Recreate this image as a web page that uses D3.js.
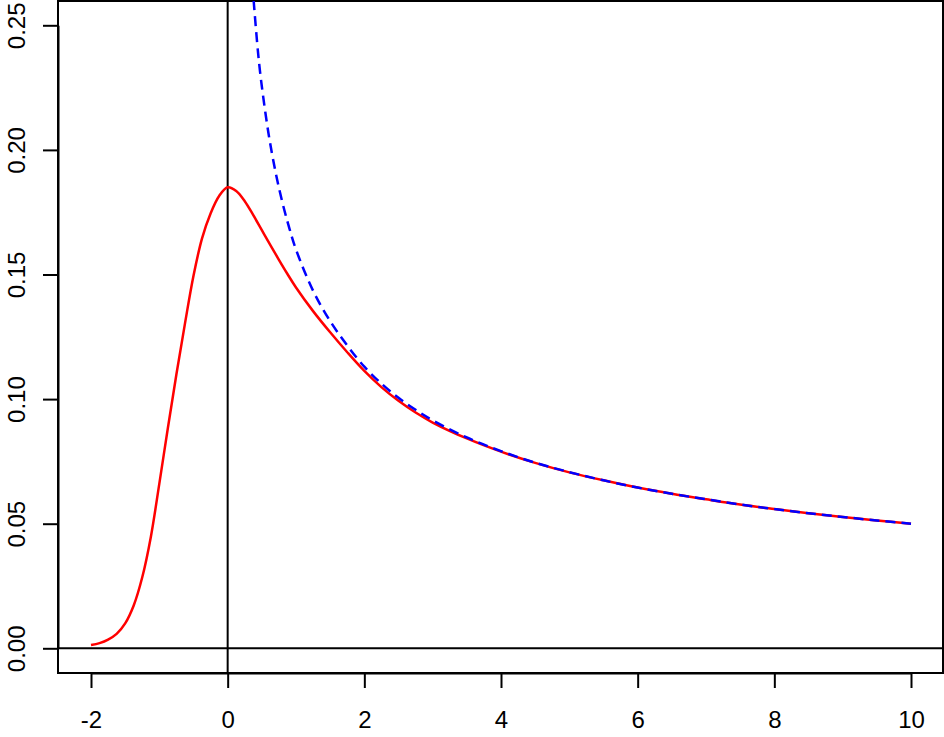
<!DOCTYPE html>
<html>
<head>
<meta charset="utf-8">
<script src="https://cdn.jsdelivr.net/npm/d3@7"></script>
<style>
  body { margin: 0; background: #fff; }
  svg { display: block; }
  text { font-family: "Liberation Sans", Arial, sans-serif; font-size: 24px; fill: #000; }
</style>
</head>
<body>
<svg width="944" height="737"></svg>
<script>
//  data
var xTicks = [-2, 0, 2, 4, 6, 8, 10];
var yTicks = [0, 0.05, 0.10, 0.15, 0.20, 0.25];

//  red solid curve
var redX = [-2, -1.875, -1.75, -1.625, -1.5, -1.375, -1.25, -1.125, -1, -0.875, -0.75, -0.625, -0.5, -0.375, -0.25, -0.125, 0,
            0.125, 0.25, 0.375, 0.5, 0.625, 0.75, 0.875, 1, 1.25, 1.5, 1.75, 2, 2.25, 2.5, 2.75, 3,
            3.5, 4, 4.5, 5, 5.5, 6, 6.5, 7, 7.5, 8, 8.5, 9, 9.5, 10];
var redY = [0.0013, 0.0021, 0.0035, 0.0058, 0.0100, 0.0172, 0.0285, 0.0446, 0.0661, 0.0884, 0.1100, 0.1303, 0.1495, 0.1645, 0.1745, 0.1815, 0.1850,
            0.1835, 0.1794, 0.1738, 0.1678, 0.1618, 0.1559, 0.1502, 0.1448, 0.1353, 0.1268, 0.1188, 0.1113, 0.1048, 0.0993, 0.0946, 0.0906,
            0.0842, 0.0789, 0.0744, 0.0706, 0.0674, 0.0645, 0.0620, 0.0598, 0.0577, 0.0559, 0.0542, 0.0527, 0.0513, 0.0500];

//  blue dashed curve
var blueX = [0.3, 0.35, 0.38, 0.45, 0.5, 0.6, 0.7, 0.8, 0.9, 1, 1.25, 1.5, 1.75, 2, 2.25, 2.5, 2.75, 3,
             3.5, 4, 4.5, 5, 5.5, 6, 6.5, 7, 7.5, 8, 8.5, 9, 9.5, 10];
var blueY = [0.2921, 0.2705, 0.2600, 0.2375, 0.2255, 0.2062, 0.1912, 0.1790, 0.1688, 0.1600, 0.1435, 0.1313, 0.1215, 0.1130, 0.1062, 0.1005, 0.0957, 0.0915,
             0.0846, 0.0791, 0.0745, 0.0707, 0.0674, 0.0645, 0.0620, 0.0598, 0.0577, 0.0559, 0.0542, 0.0527, 0.0513, 0.0500];

var svg = d3.select("svg");

//  plot box (R style)
var box = { left: 58, right: 943, top: 1, bottom: 673 };

var x = d3.scaleLinear().domain([-2, 10]).range([91, 911]);
var y = d3.scaleLinear().domain([0, 0.25]).range([648.3, 25.3]);

svg.append("clipPath").attr("id", "clip")
  .append("rect")
    .attr("x", box.left).attr("y", box.top)
    .attr("width", box.right - box.left).attr("height", box.bottom - box.top);

//  axes
var xAxis = svg.append("g")
  .attr("transform", "translate(0," + box.bottom + ")")
  .call(d3.axisBottom(x).tickValues(xTicks).tickSize(15).tickSizeOuter(0).tickFormat(d3.format("d")));
xAxis.selectAll("line").attr("stroke", "#000").attr("stroke-width", 2);
xAxis.select(".domain").attr("stroke", "#000").attr("stroke-width", 2);
xAxis.selectAll("text")
  .attr("y", 55).attr("dy", 0)
  .style("font-size", "24px").style("font-family", "'Liberation Sans', Arial, sans-serif")
  .text(function(d) { return d < 0 ? "-" + Math.abs(d) : d; });

var yAxis = svg.append("g")
  .attr("transform", "translate(" + box.left + ",0)")
  .call(d3.axisLeft(y).tickValues(yTicks).tickSize(15).tickSizeOuter(0).tickFormat(d3.format(".2f")));
yAxis.selectAll("line").attr("stroke", "#000").attr("stroke-width", 2);
yAxis.select(".domain").attr("stroke", "#000").attr("stroke-width", 2);
yAxis.selectAll("text")
  .attr("transform", "rotate(-90)")
  .attr("text-anchor", "middle")
  .attr("x", 0).attr("y", -33).attr("dy", 0)
  .style("font-size", "24px").style("font-family", "'Liberation Sans', Arial, sans-serif");

//  box
svg.append("rect")
  .attr("x", box.left).attr("y", box.top)
  .attr("width", box.right - box.left).attr("height", box.bottom - box.top)
  .attr("fill", "none").attr("stroke", "#000").attr("stroke-width", 2);

//  reference lines at x = 0 and y = 0
var plot = svg.append("g").attr("clip-path", "url(#clip)");
plot.append("line")
  .attr("x1", box.left).attr("x2", box.right)
  .attr("y1", y(0)).attr("y2", y(0))
  .attr("stroke", "#000").attr("stroke-width", 2);
plot.append("line")
  .attr("x1", x(0)).attr("x2", x(0))
  .attr("y1", box.top).attr("y2", box.bottom)
  .attr("stroke", "#000").attr("stroke-width", 2);

//  curves
var line = d3.line()
  .x(function(d) { return x(d[0]); })
  .y(function(d) { return y(d[1]); })
  .curve(d3.curveCatmullRom.alpha(0.5));

plot.append("path")
  .datum(d3.zip(redX, redY))
  .attr("d", line)
  .attr("fill", "none").attr("stroke", "#ff0000").attr("stroke-width", 2.5);

plot.append("path")
  .datum(d3.zip(blueX, blueY))
  .attr("d", line)
  .attr("fill", "none").attr("stroke", "#0000ff").attr("stroke-width", 2.5)
  .attr("stroke-dasharray", "10,6");
</script>
</body>
</html>
